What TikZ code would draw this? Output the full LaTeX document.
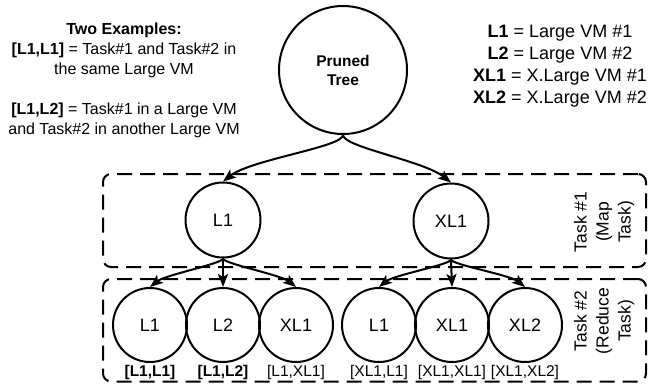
\documentclass[tikz,border=0pt]{standalone}
\usepackage{fontspec}
\setmainfont{Liberation Sans}
\usetikzlibrary{arrows.meta}
\begin{document}
\begin{tikzpicture}[x=1pt,y=-1pt,
  vm/.style={circle,draw,line width=2pt,inner sep=0pt,minimum size=74pt,font=\fontsize{18}{20}\selectfont},
  taskbox/.style={draw,line width=2pt,dash pattern=on 15pt off 8pt,rounded corners=8pt},
  conn/.style={line width=2pt,-{Stealth[length=13pt,width=10pt,inset=3pt]}},
  lbl/.style={font=\fontsize{15.5}{18}\selectfont,inner sep=0pt},
  tasklbl/.style={rotate=90,align=center,inner sep=0pt,font=\fontsize{17.5}{22}\selectfont},
  legend/.style={align=center,inner sep=0pt,anchor=north}]
\useasboundingbox (0,0) rectangle (652,383);

% dashed task boxes
\node[taskbox,minimum width=543pt,minimum height=93pt,inner sep=0pt] (mapbox) at (374.5,220.5) {};
\node[taskbox,minimum width=543pt,minimum height=102.5pt,inner sep=0pt] (redbox) at (374.5,330.25) {};

% legends
\node[legend,font=\fontsize{16}{20}\selectfont] (examples) at (124,22.3)
  {\textbf{Two Examples:}\\
   \textbf{[L1,L1]} = Task\#1 and Task\#2 in\\
   the same Large VM\\[20pt]
   \textbf{[L1,L2]} = Task\#1 in a Large VM\\
   and Task\#2 in another Large VM};
\node[legend,font=\fontsize{18}{22}\selectfont] (vms) at (560,25)
  {\textbf{L1} = Large VM \#1\\
   \textbf{L2} = Large VM \#2\\
   \textbf{XL1} = X.Large VM \#1\\
   \textbf{XL2} = X.Large VM \#2};

% root
\node[circle,draw,line width=2pt,inner sep=0pt,minimum size=128pt,align=center,
      font=\bfseries\fontsize{15.5}{19}\selectfont] (pruned) at (343,70) {Pruned\\Tree};

% map level
\node[vm,minimum size=75pt] (m1) at (223,220) {L1};
\node[vm,minimum size=75pt] (m2) at (451,221) {XL1};

% reduce level
\node[vm] (r1) at (150,325) {L1};
\node[vm] (r2) at (223,325) {L2};
\node[vm] (r3) at (296,325) {XL1};
\node[vm] (r4) at (379,325) {L1};
\node[vm] (r5) at (452,325) {XL1};
\node[vm] (r6) at (525,325) {XL2};

% labels
\node[lbl] (l1) at (150,372) {\textbf{[L1,L1]}};
\node[lbl] (l2) at (223,372) {\textbf{[L1,L2]}};
\node[lbl] (l3) at (296,372) {[L1,XL1]};
\node[lbl] (l4) at (379,372) {[XL1,L1]};
\node[lbl] (l5) at (452,372) {[XL1,XL1]};
\node[lbl] (l6) at (525,372) {[XL1,XL2]};

\node[tasklbl] (t1) at (604,222) {Task \#1\\(Map\\Task)};
\node[tasklbl] (t2) at (604,321) {Task \#2\\(Reduce\\Task)};

% connectors
\draw[conn] (pruned.south) .. controls +(0,12) and +(28,-22) .. (m1.north);
\draw[conn] (pruned.south) .. controls +(0,12) and +(-28,-22) .. (m2.north);

\draw[conn] (m1.south) .. controls +(0,5) and +(15,-12) .. (r1.north);
\draw[conn] (m1.south) -- (r2.north);
\draw[conn] (m1.south) .. controls +(0,5) and +(-15,-12) .. (r3.north);

\draw[conn] (m2.south) .. controls +(0,5) and +(15,-12) .. (r4.north);
\draw[conn] (m2.south) -- (r5.north);
\draw[conn] (m2.south) .. controls +(0,5) and +(-15,-12) .. (r6.north);
\end{tikzpicture}
\end{document}
